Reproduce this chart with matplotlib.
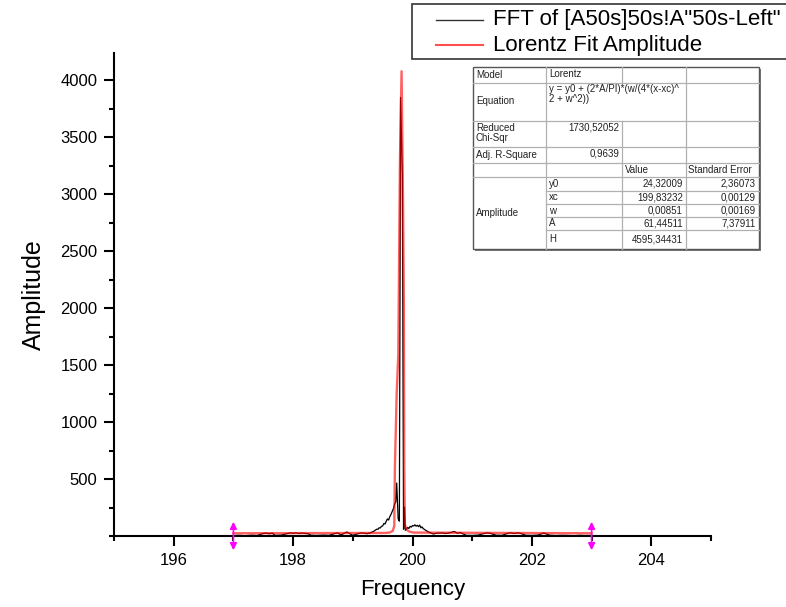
import numpy as np
import matplotlib.pyplot as plt
from matplotlib.ticker import MultipleLocator

plt.rcParams["font.family"] = ["Liberation Sans", "DejaVu Sans"]

# FFT amplitude spectrum
fft_freq = [
    197.0, 197.1, 197.2, 197.3, 197.4, 197.5, 197.55, 197.6, 197.65, 197.7,
    197.8, 197.9, 197.95, 198.0, 198.05, 198.1, 198.15, 198.2, 198.25, 198.3,
    198.4, 198.5, 198.6, 198.7, 198.75, 198.8, 198.9, 199.0, 199.1, 199.15,
    199.2,
    199.24, 199.26, 199.28, 199.30, 199.32, 199.34, 199.36, 199.38, 199.40,
    199.42, 199.44, 199.46, 199.48, 199.50, 199.52, 199.54, 199.56, 199.58,
    199.60, 199.62, 199.64, 199.66, 199.68, 199.70, 199.72, 199.735, 199.76,
    199.78, 199.80, 199.83, 199.85, 199.865, 199.88,
    199.90, 199.92, 199.94, 199.96, 199.98, 200.00, 200.02, 200.04, 200.06,
    200.08, 200.10, 200.12, 200.14, 200.16, 200.18, 200.20, 200.22, 200.24,
    200.26, 200.28, 200.30, 200.35,
    200.4, 200.5, 200.55, 200.6, 200.7, 200.75, 200.8, 200.9, 201.0, 201.1,
    201.2, 201.25, 201.3, 201.4, 201.5, 201.6, 201.65, 201.7, 201.75, 201.8,
    201.9, 202.0, 202.1, 202.2, 202.3, 202.4, 202.5, 202.6, 202.7, 202.8,
    202.9, 203.0,
]
fft_amp = [
    4, 6, 3, 7, 5, 22, 26, 20, 25, 6,
    8, 21, 27, 24, 28, 22, 26, 23, 20, 7,
    5, 8, 6, 22, 27, 9, 35, 6, 22, 27,
    24,
    20, 26, 22, 30, 34, 38, 45, 52, 60,
    58, 72, 70, 85, 88, 110, 105, 130, 150,
    140, 170, 190, 215, 240, 280, 300, 465, 150,
    130, 3850, 3170, 60, 254, 50,
    62, 75, 66, 85, 78, 92, 88, 98, 86,
    94, 82, 96, 72, 80, 64, 58, 50, 44,
    38, 33, 28, 18,
    24, 27, 22, 25, 40, 24, 30, 6, 5, 8,
    22, 27, 24, 7, 6, 24, 28, 22, 27, 25,
    6, 5, 8, 26, 7, 4, 6, 5, 3, 6,
    4, 5,
]

# Lorentz fit curve
fit_freq = [197.0, 199.55, 199.62, 199.67, 199.695, 199.705, 199.735, 199.762,
            199.79, 199.817, 199.84, 199.855, 199.862, 199.872, 199.90,
            199.95, 200.02, 203.0]
fit_amp = [24, 27, 31, 45, 90, 600, 1250, 1590,
           3300, 4080, 3000, 2050, 600, 100, 55,
           38, 30, 24]
fit_range = [197, 203]

legend_labels = ['FFT of [A50s]50s!A"50s-Left"', "Lorentz Fit Amplitude"]

# fit report table
tbl_params = ["y0", "xc", "w", "A", "H"]
tbl_values = ["24,32009", "199,83232", "0,00851", "61,44511", "4595,34431"]
tbl_errors = ["2,36073", "0,00129", "0,00169", "7,37911", ""]

W, H = 786, 607
fig = plt.figure(figsize=(W / 100, H / 100), dpi=100)
ax = fig.add_axes([114 / W, 1 - 536 / H, (711 - 114) / W, (536 - 53) / H])

ax.plot(fft_freq, fft_amp, color="black", lw=0.9, zorder=2)
ax.plot(fit_freq, fit_amp, color="red", lw=1.7, alpha=0.62, zorder=3)

for xr in fit_range:
    ax.annotate("", xy=(xr, 125), xytext=(xr, -125), annotation_clip=False,
                arrowprops=dict(arrowstyle="<|-|>", color="magenta", lw=1.2,
                                mutation_scale=10, shrinkA=0, shrinkB=0))

ax.set_xlim(195, 205)
ax.set_ylim(0, 4240)
ax.xaxis.set_major_locator(MultipleLocator(2))
ax.xaxis.set_minor_locator(MultipleLocator(1))
ax.set_yticks([500, 1000, 1500, 2000, 2500, 3000, 3500, 4000])
ax.yaxis.set_minor_locator(MultipleLocator(250))
for s in ["top", "right"]:
    ax.spines[s].set_visible(False)
for s in ["left", "bottom"]:
    ax.spines[s].set_linewidth(1.5)
ax.tick_params(which="major", direction="out", length=7, width=1.5,
               labelsize=12, pad=5, colors="black")
ax.tick_params(which="minor", direction="out", length=3.5, width=1.5)
ax.set_xlabel("Frequency", fontsize=16, labelpad=8)
ax.set_ylabel("Amplitude", fontsize=18, labelpad=10)

# overlay axes in pixel coordinates for legend box and fit report table
tx = fig.add_axes([0, 0, 1, 1], zorder=5)
tx.set_xlim(0, W)
tx.set_ylim(H, 0)
tx.axis("off")

# legend
tx.add_patch(plt.Rectangle((412, 4), 400, 55, facecolor="white",
                           edgecolor="#333333", lw=1.2, clip_on=False))
tx.plot([436, 483], [20, 20], color="#333333", lw=1)
tx.plot([436, 483], [45, 45], color="#ff5050", lw=1.5)
tx.text(493, 20, legend_labels[0], fontsize=16, va="center", ha="left")
tx.text(493, 45, legend_labels[1], fontsize=16, va="center", ha="left")

c = [473, 546, 622, 686, 759]
r = [67, 83, 121, 147, 163, 177, 191, 204, 217, 230, 249]
fs = 7
grid = "#b0b0b0"

tx.add_patch(plt.Rectangle((c[0] + 2, r[0] + 2), c[-1] - c[0], r[-1] - r[0],
                           facecolor="#777777", edgecolor="none"))
tx.add_patch(plt.Rectangle((c[0], r[0]), c[-1] - c[0], r[-1] - r[0],
                           facecolor="white", edgecolor="#555555", lw=1))

for i in range(1, 10):
    x0 = c[1] if i >= 6 else c[0]
    tx.plot([x0, c[-1]], [r[i], r[i]], color=grid, lw=0.9)
for j in (1, 3):
    tx.plot([c[j], c[j]], [r[0], r[-1]], color=grid, lw=0.9)
tx.plot([c[2], c[2]], [r[0], r[1]], color=grid, lw=0.9)
tx.plot([c[2], c[2]], [r[2], r[-1]], color=grid, lw=0.9)


def cell(x, y, s, ha="left"):
    tx.text(x, y, s, fontsize=fs, ha=ha, va="center", color="#222222")


cell(c[0] + 3, 75, "Model")
cell(c[1] + 3, 74, "Lorentz")
cell(c[0] + 3, 101, "Equation")
cell(c[1] + 3, 89, "y = y0 + (2*A/PI)*(w/(4*(x-xc)^")
cell(c[1] + 3, 99, "2 + w^2))")
cell(c[0] + 3, 128, "Reduced")
cell(c[0] + 3, 138, "Chi-Sqr")
cell(c[2] - 3, 127, "1730,52052", ha="right")
cell(c[0] + 3, 155, "Adj. R-Square")
cell(c[2] - 3, 154, "0,9639", ha="right")
cell(c[2] + 3, 170, "Value")
cell(c[3] + 2, 170, "Standard Error")
cell(c[0] + 3, (r[5] + r[-1]) / 2, "Amplitude")
for k in range(5):
    yc = (r[5 + k] + r[6 + k]) / 2
    cell(c[1] + 3, yc, tbl_params[k])
    cell(c[3] - 3, yc, tbl_values[k], ha="right")
    cell(c[4] - 3, yc, tbl_errors[k], ha="right")

fig.savefig("out.png", dpi=100)
